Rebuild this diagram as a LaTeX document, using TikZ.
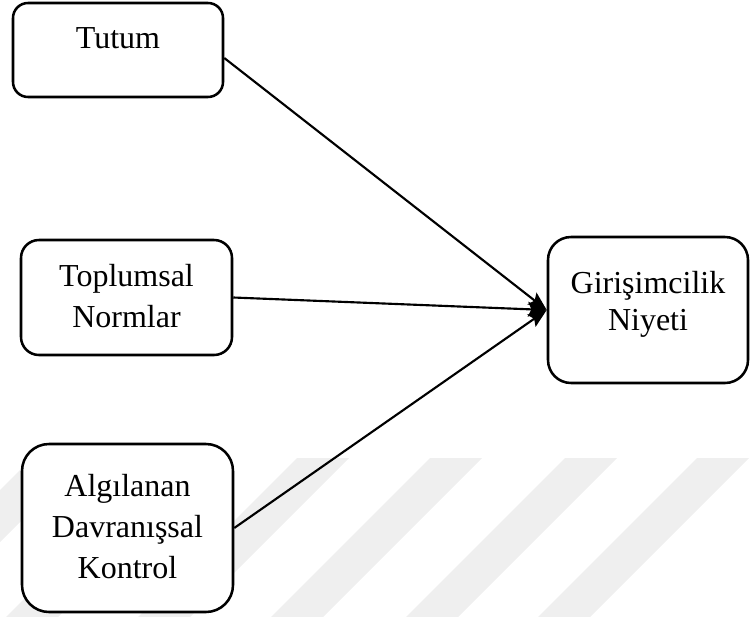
\documentclass[tikz,border=0pt]{standalone}
\usepackage{fontspec}
\setmainfont{Liberation Serif}
\usetikzlibrary{arrows.meta}
\definecolor{wm}{HTML}{EFEFEF}
\tikzset{
  box/.style={draw=black, line width=1.9pt, fill=white, inner sep=0pt},
  lbl/.style={anchor=base, inner sep=0pt, align=center, font=\fontsize{24}{30.5}\selectfont},
  link/.style={draw=black, line width=1.6pt, -{Stealth[length=14pt,width=11pt,inset=2.5pt]}},
  stripe/.style={fill=wm, draw=none}
}
\begin{document}
\begin{tikzpicture}[x=0.75pt,y=-0.75pt]
\useasboundingbox (0,0) rectangle (750,617);
% watermark stripes
\begin{scope}
\clip (0,0) rectangle (750,617);
\foreach \L in {32,165,297,430,565,697}{
  \fill[stripe] (\L,458) -- (\L+52,458) -- (\L-107,617) -- (\L-159,617) -- cycle;
}
\end{scope}
% boxes
\node[box, minimum width=210*0.75pt, minimum height=94*0.75pt, rounded corners=15*0.75pt] (T) at (118,50) {};
\node[box, minimum width=211*0.75pt, minimum height=115*0.75pt, rounded corners=18*0.75pt] (N) at (126.5,297.5) {};
\node[box, minimum width=211*0.75pt, minimum height=168*0.75pt, rounded corners=27*0.75pt] (A) at (127.5,528) {};
\node[box, minimum width=200*0.75pt, minimum height=146*0.75pt, rounded corners=23*0.75pt] (G) at (648,310) {};
% labels (base anchor = baseline of last line)
\node[lbl] (tT) at (118,49) {Tutum};
\node[lbl] (tN) at (126.5,327) {Toplumsal\\Normlar};
\node[lbl] (tA) at (127.5,578) {Algılanan\\Davranışsal\\Kontrol};
\node[lbl, font=\fontsize{24}{27.7}\selectfont] (tG) at (648,330) {Girişimcilik\\Niyeti};
% connectors
\draw[link] ([yshift=-6pt]T.east) -- (G.west);
\draw[link] (N.east) -- (G.west);
\draw[link] (A.east) -- (G.west);
\end{tikzpicture}
\end{document}
